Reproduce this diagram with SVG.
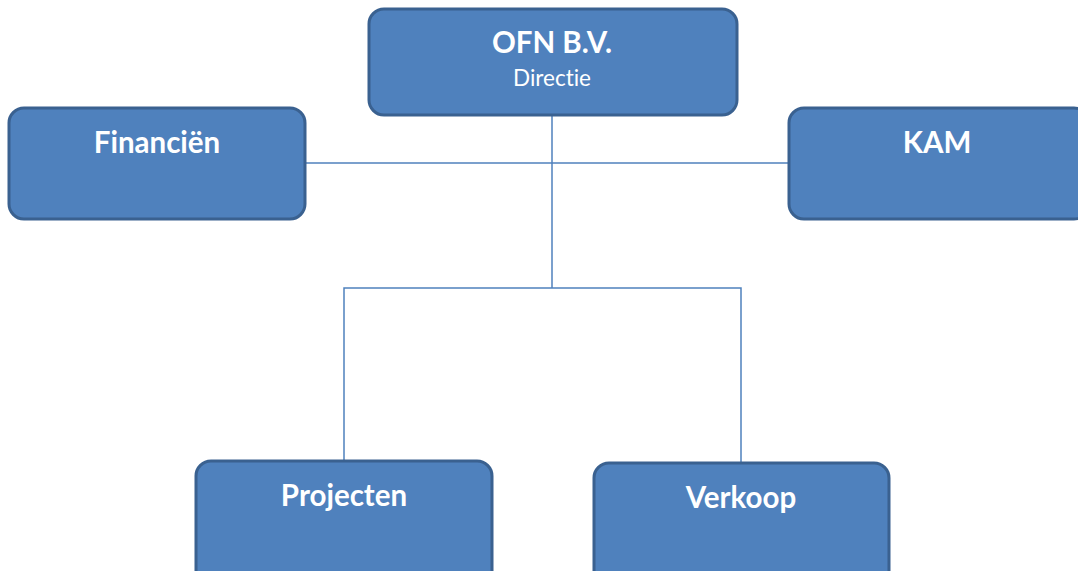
<svg xmlns="http://www.w3.org/2000/svg" width="1078" height="571" viewBox="0 0 1078 571">
<style>
.box{fill:#4f81bd;stroke:#3a6190;stroke-width:3}
.t{font-family:Lato,"Open Sans","Liberation Sans",sans-serif;fill:#fff;text-anchor:middle;font-variant-ligatures:none}
.b{font-weight:bold;font-size:29.5px}
.r{font-size:22.5px}
.c{fill:none;stroke:#4f81bd;stroke-width:1.5}
</style>
<rect width="1078" height="571" fill="#fff"/>
<g id="connectors">
<path class="c" d="M552 115V288"/>
<path class="c" d="M305 163H788"/>
<path class="c" d="M344 460V288H741V462"/>
</g>
<g id="ofn">
<rect class="box" x="369" y="9" width="368" height="106" rx="15"/>
<text class="t b" x="552" y="53">OFN B.V.</text>
<text class="t r" x="552" y="86">Directie</text>
</g>
<g id="financien">
<rect class="box" x="9" y="108" width="296" height="111" rx="15"/>
<text class="t b" x="157" y="153">Financiën</text>
</g>
<g id="kam">
<rect class="box" x="789" y="108" width="300" height="111" rx="15"/>
<text class="t b" x="937" y="153">KAM</text>
</g>
<g id="projecten">
<rect class="box" x="196" y="461" width="296" height="125" rx="15"/>
<text class="t b" x="344" y="506">Projecten</text>
</g>
<g id="verkoop">
<rect class="box" x="594" y="463" width="295" height="125" rx="15"/>
<text class="t b" x="741" y="508">Verkoop</text>
</g>
</svg>
